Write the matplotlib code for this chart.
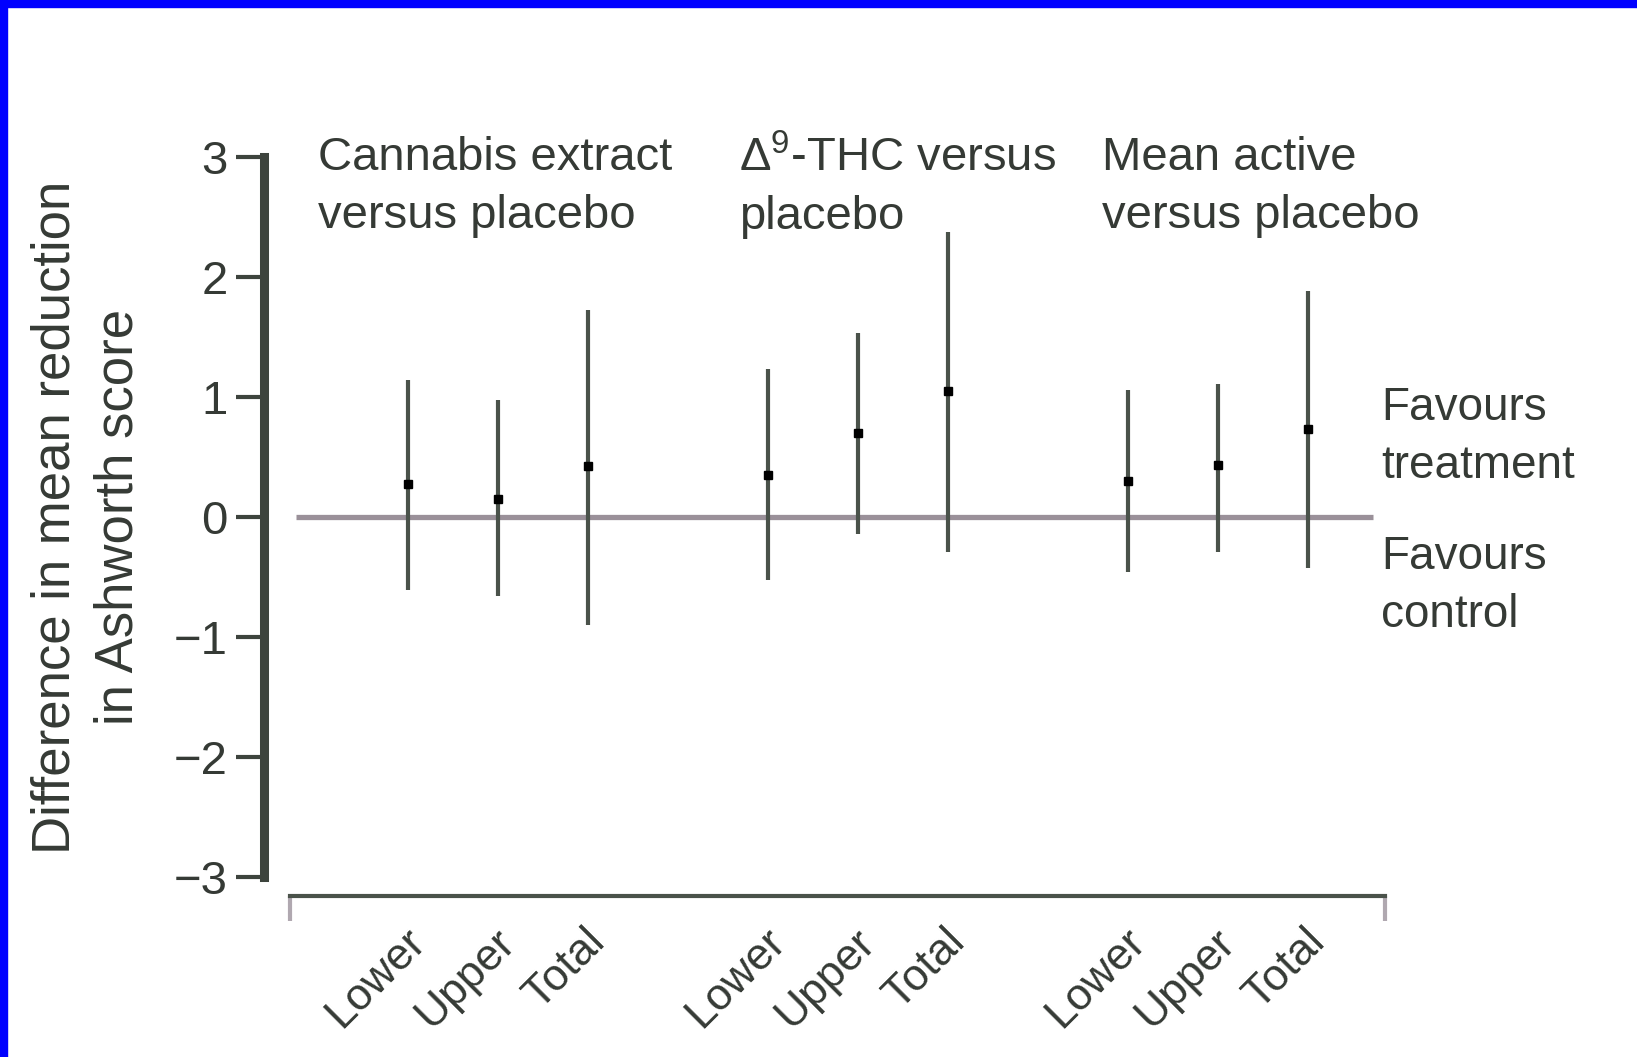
import numpy as np
import matplotlib
matplotlib.use("Agg")
import matplotlib.pyplot as plt
from matplotlib.patches import Rectangle
import matplotlib.transforms as mtransforms

plt.rcParams['font.family'] = ['Liberation Sans', 'DejaVu Sans']
plt.rcParams['mathtext.fontset'] = 'custom'
plt.rcParams['mathtext.rm'] = 'Liberation Sans'
plt.rcParams['mathtext.it'] = 'Liberation Sans:italic'

# --- data ---
groups = ["Cannabis extract\nversus placebo",
          "$\\Delta^{9}$-THC versus\nplacebo",
          "Mean active\nversus placebo"]
categories = ["Lower", "Upper", "Total"] * 3
xpos = [0, 1, 2, 4, 5, 6, 8, 9, 10]
mean = [0.27, 0.15, 0.42, 0.35, 0.70, 1.05, 0.30, 0.43, 0.73]
ci_low = [-0.61, -0.66, -0.90, -0.53, -0.14, -0.29, -0.46, -0.29, -0.43]
ci_high = [1.14, 0.97, 1.72, 1.23, 1.53, 2.37, 1.06, 1.11, 1.88]
yticks = [-3, -2, -1, 0, 1, 2, 3]

W, H = 1637, 1057
TXT = '#353a35'
AX = '#3d443d'

fig = plt.figure(figsize=(W / 100, H / 100), dpi=100)
fig.patch.set_facecolor('white')

# blue frame on top and left edge
fig.patches.append(Rectangle((0, 1 - 7 / H), 1, 7 / H, transform=fig.transFigure,
                             color='#0000ff', zorder=10))
fig.patches.append(Rectangle((0, 0), 7 / W, 1, transform=fig.transFigure,
                             color='#0000ff', zorder=10))

left, right, top, bottom = 264, 1398, 156.7, 896
ax = fig.add_axes([left / W, 1 - bottom / H, (right - left) / W, (bottom - top) / H])
ax.set_xlim(-1.6, 11.0)
ax.set_ylim(-3.158, 3.0)

for s in ['top', 'right']:
    ax.spines[s].set_visible(False)
ax.spines['left'].set_bounds(-3, 3)
ax.spines['left'].set_linewidth(6.5)
ax.spines['left'].set_color(AX)
ax.spines['bottom'].set_bounds(-1.31, 10.86)
ax.spines['bottom'].set_linewidth(3)
ax.spines['bottom'].set_color('#4a524a')

ax.set_yticks(yticks)
ax.tick_params(axis='y', length=20, width=3, color=AX, labelsize=34,
               labelcolor=TXT, pad=6)

ax.set_xticks(xpos)
ax.set_xticklabels(categories, rotation=45, ha='right', rotation_mode='anchor')
ax.tick_params(axis='x', which='major', length=0, labelsize=32, labelcolor=TXT, pad=18)
offset = mtransforms.ScaledTranslation(-4 / 100, 0, fig.dpi_scale_trans)
for lab in ax.get_xticklabels():
    lab.set_transform(lab.get_transform() + offset)
ax.set_xticks([-1.31, 10.86], minor=True)
ax.tick_params(axis='x', which='minor', length=18, width=3, color='#b0a8b0')

# zero reference line
ax.plot([-1.24, 10.72], [0, 0], color='#9a9099', lw=3.8, zorder=1,
        solid_capstyle='butt')

m = np.array(mean)
yerr = [m - np.array(ci_low), np.array(ci_high) - m]
ax.errorbar(xpos, mean, yerr=yerr, fmt='s', ms=5.5, mfc='black', mec='black',
            ecolor='#4a524a', elinewidth=3, capsize=0, zorder=3)

# group titles
title_x = [318, 739, 1102]
for gx, g in zip(title_x, groups):
    fig.text(gx / W, 1 - 136 / H, g, fontsize=34, color=TXT, ha='left', va='top',
             linespacing=1.4)

# right side annotations
fig.text(1381 / W, 1 - 437 / H, "Favours\ntreatment", fontsize=33, color=TXT,
         ha='left', va='center', linespacing=1.4)
fig.text(1381 / W, 1 - 586 / H, "Favours\ncontrol", fontsize=33, color=TXT,
         ha='left', va='center', linespacing=1.4)

# y label
fig.text(87 / W, 1 - 517 / H, "Difference in mean reduction\nin Ashworth score",
         rotation=90, fontsize=38, color=TXT, ha='center', va='center',
         linespacing=1.35)

fig.savefig("out.png", dpi=100)
